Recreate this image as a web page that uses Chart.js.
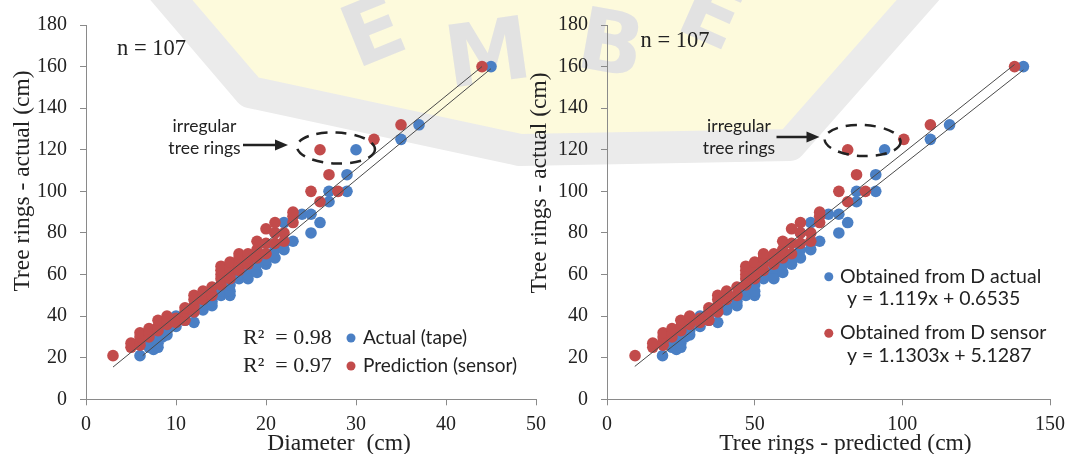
<!DOCTYPE html>
<html lang="en">
<head>
  <meta charset="UTF-8">
  <title>Tree rings – actual vs. diameter / predicted</title>
  <script src="https://cdn.jsdelivr.net/npm/chart.js"></script>
  <style>
    html, body { margin: 0; padding: 0; background: #fff; overflow: hidden; }
    #wrap { position: relative; width: 1072px; height: 454px; }
    #wm { position: absolute; left: 0; top: 0; }
    canvas { position: absolute; top: 0; }
    #left { left: 0; }
    #right { left: 520px; }
  </style>
</head>
<body>
<div id="wrap">
  <!-- faint university logo behind the charts -->
  <svg id="wm" width="1072" height="454">
    <polygon points="170,-10 255,85 520,145 785,135 920,-10" fill="#fdfadc"/>
    <polyline points="150,-25 250,92 520,150 790,145 940,-25" fill="none" stroke="#ebebeb" stroke-width="32" stroke-linejoin="round"/>
    <g fill="#e2e2e2" font-family="DejaVu Sans" font-weight="bold" font-size="86" text-anchor="middle">
      <text transform="translate(384,58) rotate(-22)">E</text>
      <text transform="translate(492,82) rotate(-8)">M</text>
      <text transform="translate(606,72) rotate(10)">B</text>
      <text transform="translate(700,40) rotate(24)">E</text>
    </g>
  </svg>
  <canvas id="left" width="560" height="454"></canvas>
  <canvas id="right" width="552" height="454"></canvas>
</div>

<script>
  // tree rings measured with tape diameter (blue)
  const tapeDiameter  = [6, 7, 7, 7.5, 8, 8, 8, 8.5, 9, 9, 10, 10, 10, 11, 11, 12, 12, 13, 13, 14, 14, 14, 15, 15, 15, 16, 16, 16, 16, 17, 17, 17, 18, 18, 18, 18, 19, 19, 19, 20, 20, 20, 21, 21, 21, 22, 22, 22, 23, 24, 25, 25, 26, 27, 27, 29, 29, 30, 35, 37, 45];
  const tapeRings     = [21, 25, 27, 24, 25, 27, 29, 30, 31, 33, 35, 38, 40, 38, 40, 37, 42, 43, 45, 45, 47, 50, 50, 52, 55, 50, 52, 55, 58, 58, 60, 62, 58, 60, 63, 66, 61, 65, 68, 65, 67, 70, 68, 72, 80, 72, 75, 85, 76, 89, 89, 80, 85, 95, 100, 100, 108, 120, 125, 132, 160];
  const tapePredicted = [18.8, 22, 22, 23.5, 25, 25, 25, 26.5, 28, 28, 31.5, 31.5, 31.5, 34.5, 34.5, 37.5, 37.5, 40.5, 40.5, 44, 44, 44, 47, 47, 47, 50, 50, 50, 50, 53, 53, 53, 56.5, 56.5, 56.5, 56.5, 59.5, 59.5, 59.5, 62.5, 62.5, 62.5, 65.5, 65.5, 65.5, 69, 69, 69, 72, 75, 78.5, 78.5, 81.5, 84.5, 84.5, 91, 91, 94, 109.5, 116, 141];

  // tree rings from sensor diameter (red)
  const sensorDiameter  = [3, 5, 5, 6, 6, 6, 6, 7, 7, 7, 8, 8, 8, 9, 9, 9, 10, 10, 11, 11, 11, 12, 12, 12, 12, 13, 13, 13, 14, 14, 15, 15, 15, 15, 15, 16, 16, 16, 16, 17, 17, 17, 17, 18, 18, 18, 19, 19, 19, 20, 20, 20, 21, 21, 21, 22, 22, 23, 23, 23, 25, 26, 26, 27, 28, 32, 35, 44];
  const sensorRings     = [21, 25, 27, 26, 28, 30, 32, 30, 32, 34, 33, 35, 38, 36, 38, 40, 37, 39, 38, 42, 44, 42, 45, 48, 50, 48, 50, 52, 50, 54, 55, 58, 60, 62, 64, 58, 60, 63, 66, 62, 65, 68, 70, 65, 68, 70, 68, 72, 76, 70, 75, 82, 75, 80, 85, 76, 80, 85, 88, 90, 100, 95, 120, 108, 100, 125, 132, 160];
  const sensorPredicted = [9.5, 15.5, 15.5, 19, 19, 19, 19, 22, 22, 22, 25, 25, 25, 28, 28, 28, 31.5, 31.5, 34.5, 34.5, 34.5, 37.5, 37.5, 37.5, 37.5, 40.5, 40.5, 40.5, 44, 44, 47, 47, 47, 47, 47, 50, 50, 50, 50, 53, 53, 53, 53, 56.5, 56.5, 56.5, 59.5, 59.5, 59.5, 62.5, 62.5, 62.5, 65.5, 65.5, 65.5, 69, 69, 72, 72, 72, 78.5, 81.5, 81.5, 84.5, 87.5, 100.5, 109.5, 138];

  // fitted lines (end points)
  const tapeFitDiameter   = [6.3, 45];
  const tapeFitRings      = [21, 159];
  const sensorFitDiameter = [3, 44];
  const sensorFitRings    = [15.5, 160];
  const tapeFitPredicted   = [18.8, 141];
  const tapeFitRingsR      = [21.7, 158.4];
  const sensorFitPredicted = [9.4, 138];
  const sensorFitRingsR    = [15.8, 161];

  const ringTicks = [0, 20, 40, 60, 80, 100, 120, 140, 160, 180];

  const BLUE = '#4a7fc4';
  const RED = '#c24b4b';
  const INK = '#222';
  const SERIF = '"Liberation Serif", "Times New Roman", serif';
  const SANS = 'Lato, "Open Sans", sans-serif';

  function pts(xs, ys) {
    return xs.map((x, i) => ({ x: x, y: ys[i] }));
  }

  function dots(label, xs, ys, color, order) {
    return {
      label, data: pts(xs, ys), order,
      backgroundColor: color, borderWidth: 0,
      pointRadius: 5.8, pointHoverRadius: 5.8
    };
  }

  function fitLine(xs, ys) {
    return {
      type: 'line', data: pts(xs, ys), order: 0,
      showLine: true, borderColor: '#4a4a4a', borderWidth: 1,
      pointRadius: 0, fill: false
    };
  }

  function axisGrid() {
    return {
      display: true, drawOnChartArea: false, drawTicks: true,
      tickLength: 6, color: '#8a8a8a'
    };
  }

  // overlay texts, arrow and dashed ellipse
  function drawNotes(ctx, n) {
    ctx.save();
    ctx.fillStyle = INK;
    ctx.strokeStyle = INK;

    // axis titles
    ctx.font = '23.5px ' + SERIF;
    ctx.textAlign = 'center';
    ctx.textBaseline = 'middle';
    ctx.fillText(n.xTitle[0], n.xTitle[1], n.xTitle[2]);
    ctx.save();
    ctx.translate(n.yTitle[1], n.yTitle[2]);
    ctx.rotate(-Math.PI / 2);
    ctx.fillText(n.yTitle[0], 0, 0);
    ctx.restore();

    // n = 107
    ctx.font = '22.5px ' + SERIF;
    ctx.textAlign = 'left';
    ctx.textBaseline = 'alphabetic';
    ctx.fillText('n = 107', n.count[0], n.count[1]);

    // irregular tree rings note
    ctx.font = '17.5px ' + SANS;
    ctx.textAlign = 'center';
    ctx.textBaseline = 'middle';
    ctx.fillText('irregular', n.note[0], n.note[1]);
    ctx.fillText('tree rings', n.note[0], n.note[1] + 22);

    const a = n.arrow;
    ctx.lineWidth = 2.5;
    ctx.beginPath();
    ctx.moveTo(a[0], a[2]);
    ctx.lineTo(a[1] - 10, a[2]);
    ctx.stroke();
    ctx.beginPath();
    ctx.moveTo(a[1], a[2]);
    ctx.lineTo(a[1] - 13, a[2] - 5.5);
    ctx.lineTo(a[1] - 13, a[2] + 5.5);
    ctx.closePath();
    ctx.fill();

    const e = n.ellipse;
    ctx.setLineDash([11, 8]);
    ctx.lineWidth = 2.5;
    ctx.beginPath();
    ctx.ellipse(e[0], e[1], e[2], e[3], 0.04, 0, Math.PI * 2);
    ctx.stroke();
    ctx.setLineDash([]);

    // legend
    n.legend.forEach(row => {
      ctx.fillStyle = row.color;
      ctx.beginPath();
      ctx.arc(row.dot[0], row.dot[1], 4.5, 0, Math.PI * 2);
      ctx.fill();
      ctx.fillStyle = INK;
      ctx.textAlign = 'left';
      ctx.textBaseline = 'middle';
      row.texts.forEach(t => {
        ctx.font = t[3] + 'px ' + (t[4] ? SERIF : SANS);
        ctx.fillText(t[0], t[1], t[2]);
      });
    });
    ctx.restore();
  }

  function makeChart(id, sets, xMax, xStep, yWidth, padRight, notes) {
    const xAxisHeight = 454 - 399.3;
    return new Chart(document.getElementById(id), {
      type: 'scatter',
      data: { datasets: sets },
      options: {
        responsive: false,
        animation: false,
        events: [],
        layout: { padding: { left: 0, right: padRight, top: 18.5, bottom: 0 } },
        plugins: { legend: { display: false }, tooltip: { enabled: false } },
        scales: {
          x: {
            type: 'linear', min: 0, max: xMax,
            afterFit(scale) { scale.height = xAxisHeight; },
            grid: axisGrid(),
            border: { color: '#8a8a8a' },
            ticks: { stepSize: xStep, padding: 7, color: INK, font: { family: SERIF, size: 20 } }
          },
          y: {
            type: 'linear', min: 0, max: 180,
            afterFit(scale) { scale.width = yWidth; },
            afterBuildTicks(scale) { scale.ticks = ringTicks.map(v => ({ value: v })); },
            grid: axisGrid(),
            border: { color: '#8a8a8a' },
            ticks: { padding: 13, color: INK, font: { family: SERIF, size: 20 } }
          }
        }
      },
      plugins: [{ id: 'notes', afterDraw(chart) { drawNotes(chart.ctx, notes); } }]
    });
  }

  makeChart('left', [
    fitLine(sensorFitDiameter, sensorFitRings),
    fitLine(tapeFitDiameter, tapeFitRings),
    dots('Prediction (sensor)', sensorDiameter, sensorRings, RED, 1),
    dots('Actual (tape)', tapeDiameter, tapeRings, BLUE, 2)
  ], 50, 10, 86, 24, {
    xTitle: ['Diameter  (cm)', 339, 444],
    yTitle: ['Tree rings - actual (cm)', 22.5, 181],
    count: [117, 55],
    note: [204.5, 126],
    arrow: [243, 288, 145],
    ellipse: [336, 148, 39, 15.5],
    legend: [
      { color: BLUE, dot: [351, 338], texts: [['R²  = 0.98', 243, 338, 22, true], ['Actual (tape)', 363, 338, 19]] },
      { color: RED, dot: [351, 366], texts: [['R²  = 0.97', 243, 366, 22, true], ['Prediction (sensor)', 363, 366, 19]] }
    ]
  });

  makeChart('right', [
    fitLine(sensorFitPredicted, sensorFitRingsR),
    fitLine(tapeFitPredicted, tapeFitRingsR),
    dots('Obtained from D sensor', sensorPredicted, sensorRings, RED, 1),
    dots('Obtained from D actual', tapePredicted, tapeRings, BLUE, 2)
  ], 150, 50, 87, 18.5, {
    xTitle: ['Tree rings - predicted (cm)', 325.5, 444],
    yTitle: ['Tree rings - actual (cm)', 20, 183],
    count: [120.5, 47],
    note: [219, 126],
    arrow: [256.5, 299.5, 137],
    ellipse: [342.6, 140.5, 38, 15.5],
    legend: [
      { color: BLUE, dot: [308.8, 276.7], texts: [['Obtained from D actual', 320, 277, 19.5], ['y = 1.119x + 0.6535', 327, 299, 19.5]] },
      { color: RED, dot: [308.8, 333.3], texts: [['Obtained from D sensor', 320, 333, 19.5], ['y = 1.1303x + 5.1287', 327, 356, 19.5]] }
    ]
  });
</script>
</body>
</html>
